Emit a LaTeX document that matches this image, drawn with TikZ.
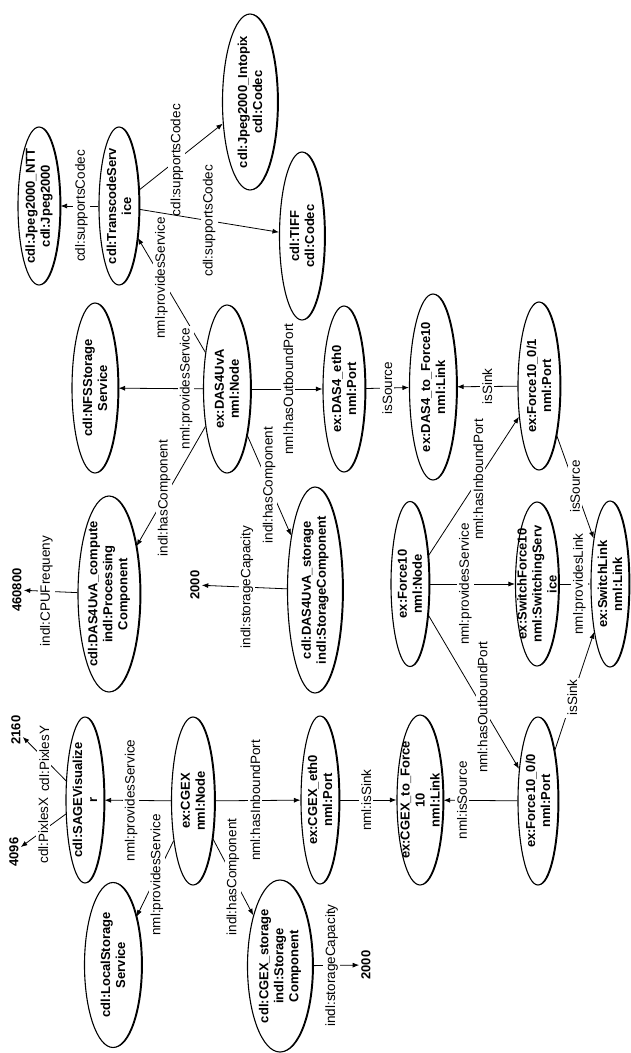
\documentclass[tikz,border=0pt]{standalone}
\usepackage{fontspec}
\setmainfont{Liberation Sans}
\usetikzlibrary{shapes.geometric,arrows.meta,shadows}
\tikzset{
  ent/.style={ellipse, draw, line width=1.1pt, rotate=90, inner sep=0pt, fill=white,
     drop shadow={shadow xshift=1.4pt, shadow yshift=0pt, opacity=1, fill=black}},
  ntext/.style={rotate=90, align=center, inner sep=0pt, font=\bfseries\fontsize{13}{15}\selectfont},
  lit/.style={rotate=90, inner sep=2pt, font=\bfseries\fontsize{13}{15}\selectfont},
  lbl/.style={rotate=90, fill=white, inner sep=2pt, font=\fontsize{13.5}{15}\selectfont},
  rel/.style={-{Latex[length=6.5pt,width=5pt]}, line width=0.8pt},
}
\newcommand\mkent[6]{%
  \node[ent, minimum width=#5, minimum height=#4] (#1) at (#2,#3) {};
  \node[ntext] (#1-t) at (#1) {#6};
}
\begin{document}
\begin{tikzpicture}[x=1pt,y=-1pt]
\useasboundingbox (0,0) rectangle (631,1053);
\mkent{ntt}{39}{206}{42}{158}{cdl:Jpeg2000\_NTT\\cdl:Jpeg2000}
\mkent{trans}{119}{206}{40}{158}{cdl:TranscodeServ\\ice}
\mkent{intopix}{250}{102}{55}{176}{cdl:Jpeg2000\_Intopix\\cdl:Codec}
\mkent{tiff}{302}{236}{45}{168}{cdl:TIFF\\cdl:Codec}
\mkent{nfs}{95}{388}{46}{170}{cdl:NFSStorage\\Service}
\mkent{das}{227}{389}{47}{168}{ex:DAS4UvA\\nml:Node}
\mkent{deth}{344}{389}{42}{166}{ex:DAS4\_eth0\\nml:Port}
\mkent{dlink}{433}{387}{47}{186}{ex:DAS4\_to\_Force10\\nml:Link}
\mkent{f01}{539}{386}{42}{168}{ex:Force10\_0/1\\nml:Port}
\mkent{comp}{109}{594}{62}{196}{cdl:DAS4UvA\_compute\\indl:Processing\\Component}
\mkent{stor}{315}{590}{55}{206}{cdl:DAS4UvA\_storage\\indl:StorageComponent}
\mkent{f10}{410}{584}{38}{165}{ex:Force10\\nml:Node}
\mkent{sw}{537}{584}{43}{164}{ex:SwitchForce10\\nml:SwitchingServ\\ice}
\mkent{slink}{610}{584}{38}{166}{ex:SwitchLink\\nml:Link}
\mkent{sage}{85}{800}{38}{166}{cdl:SAGEVisualize\\r}
\mkent{cgex}{193}{801}{43}{168}{ex:CGEX\\nml:Node}
\mkent{ceth}{320}{800}{38}{168}{ex:CGEX\_eth0\\nml:Port}
\mkent{clink}{420}{800}{46}{170}{ex:CGEX\_to\_Force\\10\\nml:Link}
\mkent{f00}{538}{801}{40}{168}{ex:Force10\_0/0\\nml:Port}
\mkent{local}{113}{965}{57}{165}{cdl:LocalStorage\\Service}
\mkent{cstor}{280}{966}{65}{172}{cdl:CGEX\_storage\\indl:Storage\\Component}
\node[lit] (l460800) at (17,590) {460800};
\node[lit] (l2000a) at (195,585) {2000};
\node[lit] (l2160) at (16,730) {2160};
\node[lit] (l4096) at (14,852) {4096};
\node[lit] (l2000b) at (366,965) {2000};
\draw[rel] (trans) -- node[lbl,pos=0.45]{cdl:supportsCodec} (ntt);
\draw[rel] (trans) -- node[lbl,pos=0.45]{cdl:supportsCodec} (intopix);
\draw[rel] (trans) -- node[lbl,pos=0.5]{cdl:supportsCodec} (tiff);
\draw[rel] (das) -- node[lbl,pos=0.65]{nml:providesService} (trans);
\draw[rel] (das) -- node[lbl,pos=0.2]{nml:providesService} (nfs);
\draw[rel] (das) -- node[lbl,pos=0.6]{indl:hasComponent} (comp);
\draw[rel] (das) -- node[lbl,pos=0.52]{nml:hasOutboundPort} (deth);
\draw[rel] (das) -- node[lbl,pos=0.5]{indl:hasComponent} (stor);
\draw[rel] (stor) -- node[lbl,pos=0.47]{indl:storageCapacity} (l2000a);
\draw[rel] (comp) -- node[lbl,pos=0.58]{indl:CPUFrequeny} (l460800);
\draw[rel] (deth) -- node[lbl]{isSource} (dlink);
\draw[rel] (f01) -- node[lbl]{isSink} (dlink);
\draw[rel] (f10) -- node[lbl,pos=0.55]{nml:hasInboundPort} (f01);
\draw[rel] (f10) -- node[lbl,pos=0.42]{nml:providesService} (sw);
\draw[rel] (f10) -- node[lbl,pos=0.6]{nml:hasOutboundPort} (f00);
\draw[rel] (sw) -- node[lbl,pos=0.65]{nml:providesLink} (slink);
\draw[rel] (f01) -- node[lbl]{isSource} (slink);
\draw[rel] (f00) -- node[lbl,pos=0.45]{isSink} (slink);
\draw[rel] (cgex) -- node[lbl,pos=0.6]{nml:providesService} (sage);
\draw[rel] (cgex) -- node[lbl,pos=0.45]{nml:providesService} (local);
\draw[rel] (cgex) -- node[lbl]{indl:hasComponent} (cstor);
\draw[rel] (cgex) -- node[lbl,pos=0.47]{nml:hasInboundPort} (ceth);
\draw[rel] (ceth) -- node[lbl,pos=0.47]{nml:isSink} (clink);
\draw[rel] (f00) -- node[lbl,pos=0.75]{nml:isSource} (clink);
\draw[rel] (cstor) -- node[lbl,pos=0.4]{indl:storageCapacity} (l2000b);
\draw[rel] (sage) -- node[lbl]{cdl:PixlesY} (l2160);
\draw[rel] (sage) -- node[lbl]{cdl:PixlesX} (l4096);
\end{tikzpicture}
\end{document}
